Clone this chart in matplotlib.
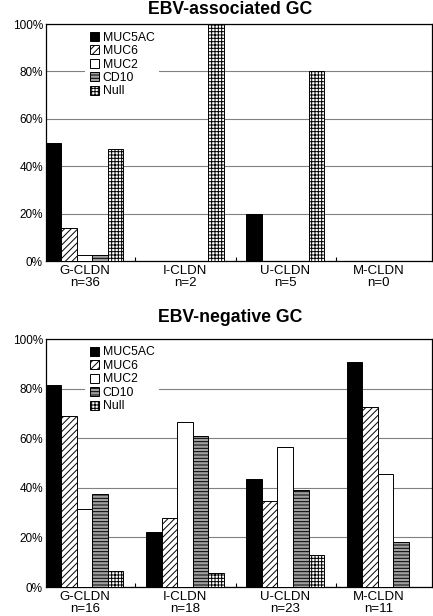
import numpy as np
import matplotlib
matplotlib.use("Agg")
import matplotlib.pyplot as plt

plt.rcParams['font.family'] = ['Liberation Sans', 'DejaVu Sans']
plt.rcParams['hatch.linewidth'] = 0.7

markers = ['MUC5AC', 'MUC6', 'MUC2', 'CD10', 'Null']
groups = ['G-CLDN', 'I-CLDN', 'U-CLDN', 'M-CLDN']
n_assoc = [36, 2, 5, 0]
n_neg = [16, 18, 23, 11]

# percent of cases, rows = groups, columns = markers
assoc = [
    [50.0, 13.9, 2.8, 2.8, 47.2],
    [0, 0, 0, 0, 100.0],
    [20.0, 0, 0, 0, 80.0],
    [0, 0, 0, 0, 0],
]
neg = [
    [81.3, 68.8, 31.3, 37.5, 6.3],
    [22.2, 27.8, 66.7, 61.1, 5.6],
    [43.5, 34.8, 56.5, 39.1, 13.0],
    [90.9, 72.7, 45.5, 18.2, 0],
]

faces = ['black', 'white', 'white', '#a0a0a0', 'white']
hatches = [None, '/////', None, '-----', '+++++']

fig = plt.figure(figsize=(4.33, 6.16), dpi=100)


def draw(ax, data, ns, title, ty):
    data = np.array(data)
    w = 0.155
    x = np.arange(len(groups))
    for j, m in enumerate(markers):
        ax.bar(x + j * w, data[:, j], width=w, align='edge', color=faces[j],
               hatch=hatches[j], edgecolor='black', linewidth=0.7, label=m, zorder=3)
    ax.set_xlim(0, 3.85)
    ax.set_ylim(0, 100)
    ax.set_yticks(range(0, 101, 20))
    ax.set_yticklabels([f'{v}%' for v in range(0, 101, 20)], fontsize=8.5)
    ax.yaxis.grid(True, color='#808080', linewidth=0.8, zorder=0)
    ax.set_axisbelow(True)
    ax.set_xticks([0.39, 1.39, 2.39, 3.32])
    ax.set_xticklabels([f'{g}\nn={n}' for g, n in zip(groups, ns)], fontsize=9.5,
                       linespacing=1.0)
    ax.tick_params(axis='x', length=0, pad=3)
    ax.set_xticks([0.893, 1.893, 2.893], minor=True)
    ax.tick_params(axis='x', which='minor', direction='in', length=3, width=0.8)
    ax.tick_params(axis='y', length=0, pad=2)
    for s in ax.spines.values():
        s.set_linewidth(0.9)
    leg = ax.legend(loc='upper left', bbox_to_anchor=(0.087, 1.012), fontsize=8.8,
                    handlelength=0.75, handleheight=0.75, handletextpad=0.3,
                    labelspacing=0.12, borderpad=0.35, frameon=True, fancybox=False)
    leg.get_frame().set_edgecolor('none')
    leg.get_frame().set_facecolor('white')
    leg.get_frame().set_alpha(1)
    fig.text(0.531, ty, title, ha='center', va='center', fontsize=12.7, fontweight='bold')


ax1 = fig.add_axes([0.1055, 0.576, 0.892, 0.385])
draw(ax1, assoc, n_assoc, 'EBV-associated GC', 1 - 9 / 616)
ax2 = fig.add_axes([0.1055, 0.047, 0.892, 0.4026])
draw(ax2, neg, n_neg, 'EBV-negative GC', 1 - 318 / 616)

fig.savefig('out.png', dpi=100)
